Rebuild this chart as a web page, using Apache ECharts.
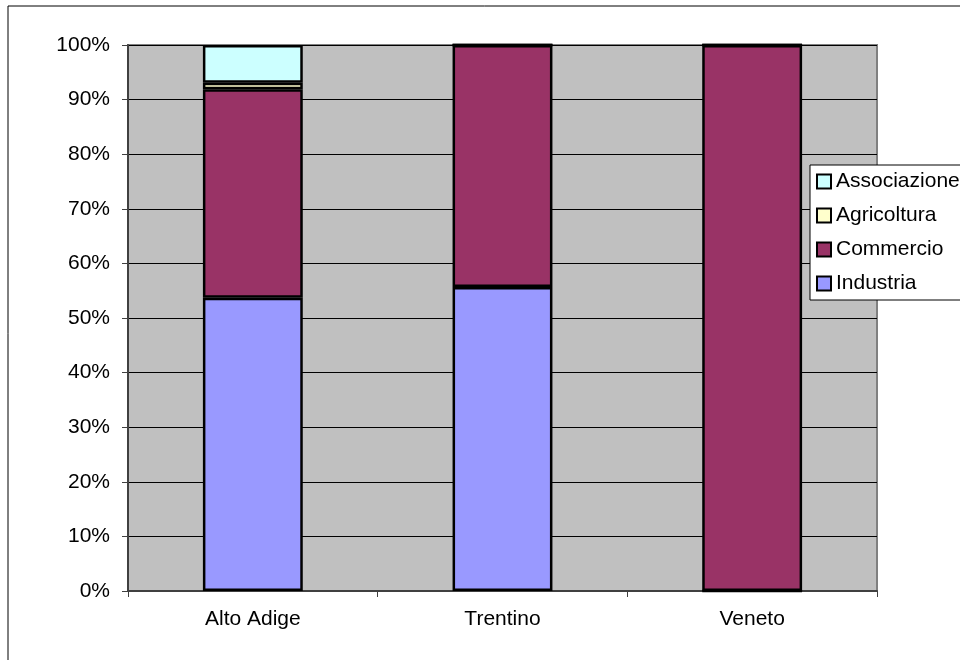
<!DOCTYPE html>
<html>
<head>
<meta charset="utf-8">
<script src="https://cdn.jsdelivr.net/npm/echarts@6/dist/echarts.min.js"></script>
<style>
html,body{margin:0;padding:0;background:#fff;}
#chart{width:960px;height:660px;}
</style>
</head>
<body>
<div id="chart"></div>
<script>
var categories = ['Alto Adige', 'Trentino', 'Veneto'];
var industria = [53.7, 55.7, 0];
var commercio = [38.2, 44.3, 100];
var agricoltura = [1.2, 0, 0];
var associazione = [6.9, 0, 0];
var yTicks = [0, 10, 20, 30, 40, 50, 60, 70, 80, 90, 100];
var legendOrder = ['Associazione', 'Agricoltura', 'Commercio', 'Industria'];

var FONT = '"Liberation Sans", Arial, sans-serif';
var chart = echarts.init(document.getElementById('chart'), null, {renderer: 'canvas'});

function mkSeries(name, data, color) {
  return {
    name: name,
    type: 'bar',
    stack: 'total',
    data: data,
    barWidth: '40%',
    itemStyle: {color: color, borderColor: '#000', borderWidth: 2.5},
    emphasis: {disabled: true},
    animation: false
  };
}

chart.setOption({
  animation: false,
  backgroundColor: '#fff',
  textStyle: {fontFamily: FONT},
  graphic: [{
    type: 'rect',
    shape: {x: 8, y: 6, width: 1000, height: 700},
    style: {fill: 'none', stroke: '#000', lineWidth: 1},
    z: -10,
    silent: true
  }],
  grid: {
    left: 128, top: 45, right: 83, bottom: 69,
    show: true,
    backgroundColor: '#c0c0c0',
    borderColor: '#808080',
    borderWidth: 2
  },
  legend: {
    data: legendOrder,
    orient: 'vertical',
    left: 810,
    top: 165,
    padding: [6, 30, 6, 6],
    itemWidth: 14,
    itemHeight: 14,
    itemGap: 13,
    icon: 'rect',
    backgroundColor: '#fff',
    borderColor: '#000',
    borderWidth: 1,
    textStyle: {fontFamily: FONT, fontSize: 21, color: '#000'},
    selectedMode: false
  },
  xAxis: {
    type: 'category',
    data: categories,
    axisLine: {lineStyle: {color: '#404040', width: 2}},
    axisTick: {show: true, length: 6, lineStyle: {color: '#404040', width: 1}},
    axisLabel: {fontFamily: FONT, fontSize: 21, color: '#000', margin: 18},
    splitLine: {show: false}
  },
  yAxis: {
    type: 'value',
    min: yTicks[0],
    max: yTicks[yTicks.length - 1],
    interval: 10,
    axisLine: {show: true, lineStyle: {color: '#404040', width: 2}},
    axisTick: {show: true, length: 6, lineStyle: {color: '#404040', width: 1}},
    axisLabel: {fontFamily: FONT, fontSize: 21, color: '#000', margin: 18, formatter: '{value}%'},
    splitLine: {show: true, lineStyle: {color: '#000', width: 1}}
  },
  series: [
    mkSeries('Industria', industria, '#9999ff'),
    mkSeries('Commercio', commercio, '#993366'),
    mkSeries('Agricoltura', agricoltura, '#ffffcc'),
    mkSeries('Associazione', associazione, '#ccffff')
  ]
});
</script>
</body>
</html>
